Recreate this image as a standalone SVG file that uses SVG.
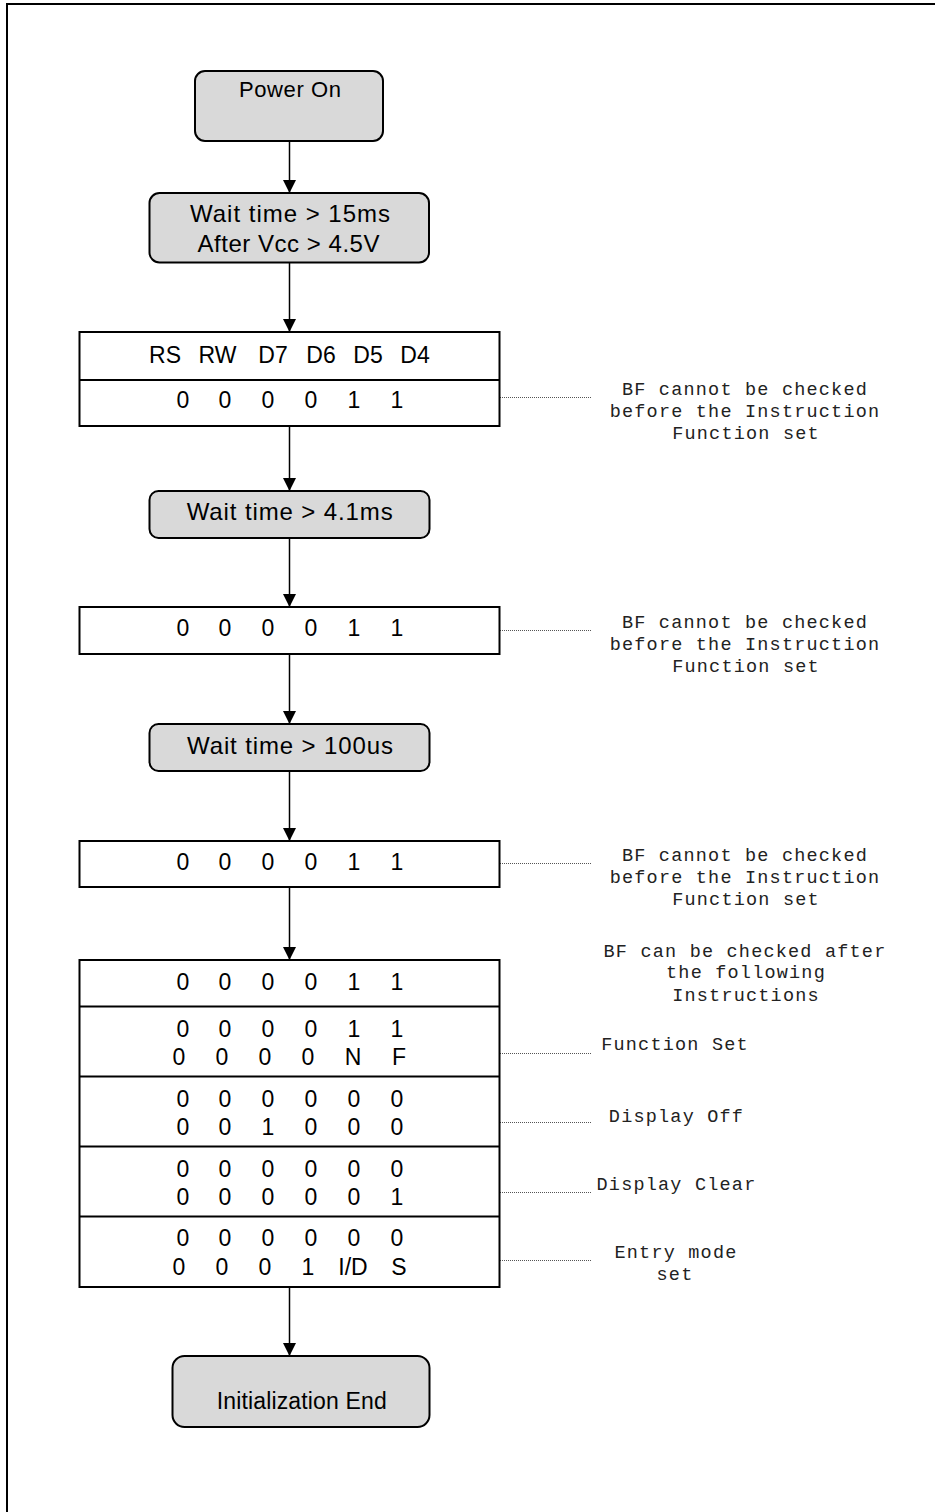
<svg xmlns="http://www.w3.org/2000/svg" width="935" height="1512" viewBox="0 0 935 1512">
<style>
.frame{stroke:#000;stroke-width:2;fill:none}
.box{fill:#d9d9d9;stroke:#000;stroke-width:2}
.tbl{fill:#fff;stroke:#000;stroke-width:2}
.div{stroke:#000;stroke-width:2}
.lbl{font-family:"Liberation Sans",Arial,sans-serif;font-size:24px;fill:#000;text-anchor:middle}
.dg{font-family:"Liberation Sans",Arial,sans-serif;font-size:23px;fill:#000;text-anchor:middle}
.note{font-family:"Liberation Mono","Courier New",monospace;font-size:18.5px;letter-spacing:1.2px;fill:#222;text-anchor:middle}
.arrow{stroke:#000;stroke-width:1.5;fill:none;marker-end:url(#ah)}
.dot{stroke:#555;stroke-width:1;stroke-dasharray:1 1;fill:none}
</style>
<defs>
<marker id="ah" markerUnits="userSpaceOnUse" markerWidth="13" markerHeight="13" refX="13" refY="6.5" orient="auto" viewBox="0 0 13 13">
<path d="M0,0 L13,6.5 L0,13 z" fill="#000"/>
</marker>
</defs>
<rect width="935" height="1512" fill="#fff"/>
<path class="frame" d="M7,1512 V4 H935"/>

<g id="connectors">
<line class="arrow" x1="289.5" y1="141" x2="289.5" y2="193"/>
<line class="arrow" x1="289.5" y1="262" x2="289.5" y2="332"/>
<line class="arrow" x1="289.5" y1="420" x2="289.5" y2="491"/>
<line class="arrow" x1="289.5" y1="538" x2="289.5" y2="607"/>
<line class="arrow" x1="289.5" y1="654" x2="289.5" y2="724"/>
<line class="arrow" x1="289.5" y1="771" x2="289.5" y2="841"/>
<line class="arrow" x1="289.5" y1="887" x2="289.5" y2="960"/>
<line class="arrow" x1="289.5" y1="1280" x2="289.5" y2="1356"/>
<line class="dot" x1="500" y1="397.5" x2="591" y2="397.5"/>
<line class="dot" x1="500" y1="630.5" x2="591" y2="630.5"/>
<line class="dot" x1="500" y1="863.5" x2="591" y2="863.5"/>
<line class="dot" x1="500" y1="1053.5" x2="591" y2="1053.5"/>
<line class="dot" x1="500" y1="1122.5" x2="591" y2="1122.5"/>
<line class="dot" x1="500" y1="1192.5" x2="591" y2="1192.5"/>
<line class="dot" x1="500" y1="1260.5" x2="591" y2="1260.5"/>
</g>

<g id="power_on">
<rect class="box" x="195" y="71" width="188" height="70" rx="10"/>
<text class="lbl" x="290" y="97" style="font-size:22px" textLength="102" lengthAdjust="spacing">Power On</text>
</g>

<g id="wait_15ms">
<rect class="box" x="149.5" y="193" width="279.5" height="69.5" rx="10"/>
<text class="lbl" x="290" y="221.5" textLength="200" lengthAdjust="spacing">Wait time &gt; 15ms</text>
<text class="lbl" x="288.5" y="251.5" textLength="182" lengthAdjust="spacing">After Vcc &gt; 4.5V</text>
</g>

<g id="init_cmd_1">
<rect class="tbl" x="79.5" y="332" width="420" height="94"/>
<line class="div" x1="79.5" y1="380" x2="499.5" y2="380"/>
<text class="dg" y="362.5"><tspan x="165">RS</tspan><tspan x="217.5">RW</tspan><tspan x="273">D7</tspan><tspan x="321">D6</tspan><tspan x="368">D5</tspan><tspan x="415">D4</tspan></text>
<text class="dg" y="408"><tspan x="183">0</tspan><tspan x="225">0</tspan><tspan x="268">0</tspan><tspan x="311">0</tspan><tspan x="354">1</tspan><tspan x="397">1</tspan></text>
</g>

<g id="note_1">
<text class="note"><tspan x="745" y="395">BF cannot be checked</tspan><tspan x="745" y="417">before the Instruction</tspan><tspan x="746" y="439">Function set</tspan></text>
</g>

<g id="wait_4_1ms">
<rect class="box" x="149.5" y="491" width="280" height="47" rx="9"/>
<text class="lbl" x="289.7" y="520" textLength="206" lengthAdjust="spacing">Wait time &gt; 4.1ms</text>
</g>

<g id="init_cmd_2">
<rect class="tbl" x="79.5" y="607" width="420" height="47"/>
<text class="dg" y="636"><tspan x="183">0</tspan><tspan x="225">0</tspan><tspan x="268">0</tspan><tspan x="311">0</tspan><tspan x="354">1</tspan><tspan x="397">1</tspan></text>
</g>

<g id="note_2">
<text class="note"><tspan x="745" y="628">BF cannot be checked</tspan><tspan x="745" y="650">before the Instruction</tspan><tspan x="746" y="672">Function set</tspan></text>
</g>

<g id="wait_100us">
<rect class="box" x="149.5" y="724" width="280" height="47" rx="9"/>
<text class="lbl" x="290" y="753.5" textLength="206" lengthAdjust="spacing">Wait time &gt; 100us</text>
</g>

<g id="init_cmd_3">
<rect class="tbl" x="79.5" y="841" width="420" height="46"/>
<text class="dg" y="870"><tspan x="183">0</tspan><tspan x="225">0</tspan><tspan x="268">0</tspan><tspan x="311">0</tspan><tspan x="354">1</tspan><tspan x="397">1</tspan></text>
</g>

<g id="note_3">
<text class="note"><tspan x="745" y="861">BF cannot be checked</tspan><tspan x="745" y="883">before the Instruction</tspan><tspan x="746" y="905">Function set</tspan></text>
</g>

<g id="init_sequence">
<rect class="tbl" x="79.5" y="960" width="420" height="327"/>
<line class="div" x1="79.5" y1="1006.5" x2="499.5" y2="1006.5"/>
<line class="div" x1="79.5" y1="1076.5" x2="499.5" y2="1076.5"/>
<line class="div" x1="79.5" y1="1146.5" x2="499.5" y2="1146.5"/>
<line class="div" x1="79.5" y1="1216.5" x2="499.5" y2="1216.5"/>
<text class="dg" y="990"><tspan x="183">0</tspan><tspan x="225">0</tspan><tspan x="268">0</tspan><tspan x="311">0</tspan><tspan x="354">1</tspan><tspan x="397">1</tspan></text>
<text class="dg" y="1036.5"><tspan x="183">0</tspan><tspan x="225">0</tspan><tspan x="268">0</tspan><tspan x="311">0</tspan><tspan x="354">1</tspan><tspan x="397">1</tspan></text>
<text class="dg" y="1065"><tspan x="179">0</tspan><tspan x="222">0</tspan><tspan x="265">0</tspan><tspan x="308">0</tspan><tspan x="353">N</tspan><tspan x="399">F</tspan></text>
<text class="dg" y="1106.5"><tspan x="183">0</tspan><tspan x="225">0</tspan><tspan x="268">0</tspan><tspan x="311">0</tspan><tspan x="354">0</tspan><tspan x="397">0</tspan></text>
<text class="dg" y="1135"><tspan x="183">0</tspan><tspan x="225">0</tspan><tspan x="268">1</tspan><tspan x="311">0</tspan><tspan x="354">0</tspan><tspan x="397">0</tspan></text>
<text class="dg" y="1176.5"><tspan x="183">0</tspan><tspan x="225">0</tspan><tspan x="268">0</tspan><tspan x="311">0</tspan><tspan x="354">0</tspan><tspan x="397">0</tspan></text>
<text class="dg" y="1205"><tspan x="183">0</tspan><tspan x="225">0</tspan><tspan x="268">0</tspan><tspan x="311">0</tspan><tspan x="354">0</tspan><tspan x="397">1</tspan></text>
<text class="dg" y="1246"><tspan x="183">0</tspan><tspan x="225">0</tspan><tspan x="268">0</tspan><tspan x="311">0</tspan><tspan x="354">0</tspan><tspan x="397">0</tspan></text>
<text class="dg" y="1274.5"><tspan x="179">0</tspan><tspan x="222">0</tspan><tspan x="265">0</tspan><tspan x="308">1</tspan><tspan x="353">I/D</tspan><tspan x="399">S</tspan></text>
</g>

<g id="note_4">
<text class="note"><tspan x="745" y="957">BF can be checked after</tspan><tspan x="746" y="978">the following</tspan><tspan x="746" y="1000.5">Instructions</tspan></text>
</g>
<g id="note_function_set"><text class="note" x="675" y="1050">Function Set</text></g>
<g id="note_display_off"><text class="note" x="676.5" y="1121.5">Display Off</text></g>
<g id="note_display_clear"><text class="note" x="676.5" y="1190">Display Clear</text></g>
<g id="note_entry_mode"><text class="note"><tspan x="676" y="1258">Entry mode</tspan><tspan x="675" y="1280">set</tspan></text></g>

<g id="init_end">
<rect class="box" x="172.5" y="1356" width="257" height="71" rx="12"/>
<text class="lbl" x="301.7" y="1409" style="font-size:23px" textLength="170" lengthAdjust="spacing">Initialization End</text>
</g>
</svg>
